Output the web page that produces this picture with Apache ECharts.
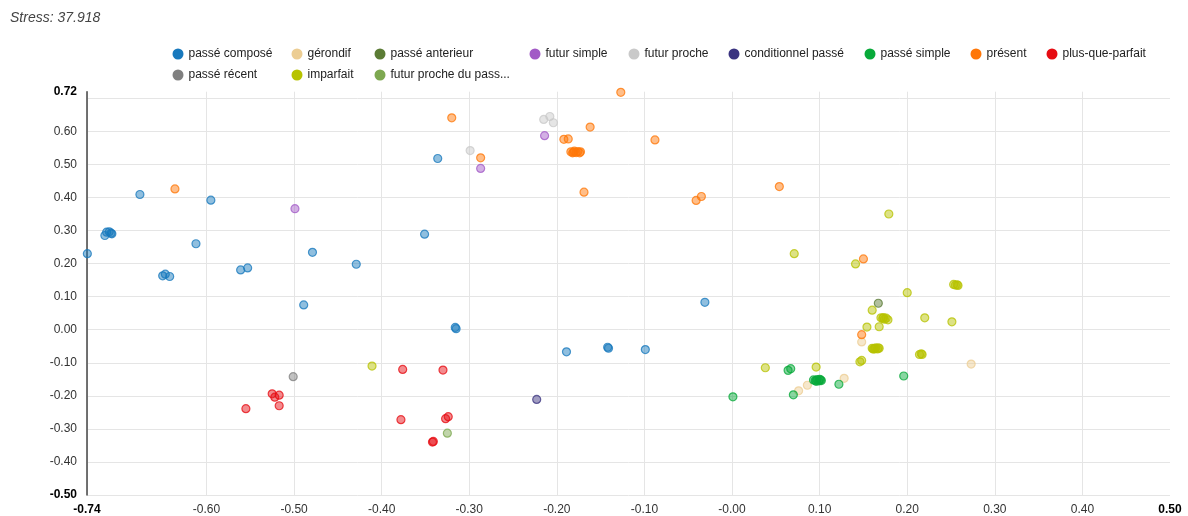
<!DOCTYPE html>
<html>
<head>
<meta charset="utf-8">
<title>Stress: 37.918</title>
<script src="https://cdn.jsdelivr.net/npm/echarts@6/dist/echarts.min.js"></script>
<style>
  html, body { margin: 0; padding: 0; background: #fff; }
  #chart { width: 1188px; height: 516px; }
</style>
</head>
<body>
<div id="chart"></div>
<script>
// MDS projection of verb tenses: one [x, y] pair per occurrence
const passeCompose = [
  [-0.736, 0.230],
  [-0.716, 0.285], [-0.714, 0.295], [-0.711, 0.296], [-0.709, 0.292], [-0.708, 0.290],
  [-0.676, 0.409],
  [-0.650, 0.163], [-0.647, 0.168], [-0.642, 0.161],
  [-0.612, 0.260],
  [-0.595, 0.392],
  [-0.561, 0.181], [-0.553, 0.187],
  [-0.489, 0.075],
  [-0.479, 0.234],
  [-0.429, 0.198],
  [-0.351, 0.289],
  [-0.336, 0.518],
  [-0.316, 0.007], [-0.315, 0.003],
  [-0.189, -0.067],
  [-0.142, -0.053], [-0.141, -0.056],
  [-0.099, -0.060],
  [-0.031, 0.083]
];
const gerondif = [[0.148, -0.037], [0.273, -0.104], [0.128, -0.147], [0.086, -0.168], [0.076, -0.185]];
const passeAnterieur = [[0.167, 0.080]];
const futurSimple = [[-0.499, 0.366], [-0.287, 0.488], [-0.214, 0.587]];
const futurProche = [[-0.299, 0.542], [-0.215, 0.636], [-0.208, 0.645], [-0.204, 0.626]];
const conditionnelPasse = [[-0.223, -0.211]];
const passeSimple = [
  [0.001, -0.203], [0.064, -0.123], [0.067, -0.118], [0.070, -0.197],
  [0.093, -0.152], [0.095, -0.154], [0.097, -0.151], [0.099, -0.155],
  [0.101, -0.152], [0.102, -0.154], [0.096, -0.156], [0.100, -0.150],
  [0.122, -0.165], [0.196, -0.140]
];
const present = [
  [-0.636, 0.426], [-0.320, 0.641], [-0.287, 0.520], [-0.192, 0.576], [-0.187, 0.577],
  [-0.184, 0.538], [-0.182, 0.535], [-0.180, 0.540], [-0.178, 0.536],
  [-0.176, 0.539], [-0.174, 0.535], [-0.173, 0.538], [-0.181, 0.537],
  [-0.169, 0.416], [-0.162, 0.613], [-0.127, 0.718], [-0.088, 0.574],
  [-0.041, 0.391], [-0.035, 0.403], [0.054, 0.433], [0.150, 0.214], [0.148, -0.015]
];
const plusQueParfait = [
  [-0.555, -0.239], [-0.525, -0.194], [-0.522, -0.204], [-0.517, -0.198], [-0.517, -0.230],
  [-0.378, -0.272], [-0.376, -0.120], [-0.342, -0.340], [-0.341, -0.338],
  [-0.330, -0.122], [-0.327, -0.269], [-0.324, -0.263]
];
const passeRecent = [[-0.501, -0.142]];
const imparfait = [
  [-0.411, -0.110], [0.038, -0.115], [0.071, 0.230], [0.096, -0.113], [0.141, 0.199],
  [0.146, -0.097], [0.148, -0.093],
  [0.154, 0.008], [0.160, 0.059], [0.168, 0.009],
  [0.170, 0.036], [0.172, 0.034], [0.174, 0.032], [0.176, 0.035], [0.178, 0.030], [0.173, 0.037],
  [0.160, -0.056], [0.162, -0.058], [0.164, -0.055], [0.166, -0.058],
  [0.168, -0.056], [0.163, -0.057], [0.161, -0.058], [0.167, -0.055],
  [0.179, 0.350], [0.200, 0.112],
  [0.214, -0.075], [0.216, -0.073], [0.217, -0.075],
  [0.220, 0.036], [0.251, 0.024],
  [0.253, 0.137], [0.255, 0.135], [0.257, 0.136], [0.258, 0.134]
];
const futurProchePasse = [[-0.325, -0.313]];

const seriesNames = [
  'passé composé', 'gérondif', 'passé anterieur', 'futur simple', 'futur proche',
  'conditionnel passé', 'passé simple', 'présent', 'plus-que-parfait',
  'passé récent', 'imparfait', 'futur proche du passé'
];
const seriesData = [
  passeCompose, gerondif, passeAnterieur, futurSimple, futurProche,
  conditionnelPasse, passeSimple, present, plusQueParfait,
  passeRecent, imparfait, futurProchePasse
];
const seriesColors = [
  '#1879bd', '#eccd93', '#5b7c35', '#a25ac6', '#c9c9c9',
  '#3a3380', '#08aa3a', '#ff7708', '#e60c12',
  '#808080', '#b7c300', '#7da850'
];

const X_MIN = -0.7364, X_MAX = 0.50;
const Y_MIN = -0.50, Y_MAX = 0.72;

const FONT = '"Liberation Sans", Arial, Helvetica, sans-serif';

function withAlpha(hex, a) {
  const n = parseInt(hex.slice(1), 16);
  return 'rgba(' + (n >> 16 & 255) + ',' + (n >> 8 & 255) + ',' + (n & 255) + ',' + a + ')';
}

// legend laid out in columns: each column is its own vertical legend
const legendColumns = [
  { x: 179, names: ['passé composé', 'passé récent'] },
  { x: 298, names: ['gérondif', 'imparfait'] },
  { x: 381, names: ['passé anterieur', 'futur proche du passé'] },
  { x: 536, names: ['futur simple'] },
  { x: 635, names: ['futur proche'] },
  { x: 735, names: ['conditionnel passé'] },
  { x: 871, names: ['passé simple'] },
  { x: 977, names: ['présent'] },
  { x: 1053, names: ['plus-que-parfait'] }
];

const legends = legendColumns.map(col => ({
  data: col.names.map(name => ({
    name: name,
    itemStyle: { color: seriesColors[seriesNames.indexOf(name)], borderWidth: 0, opacity: 1 }
  })),
  orient: 'vertical',
  left: col.x - 6.5,
  top: 47,
  padding: 0,
  itemWidth: 11,
  itemHeight: 11,
  itemGap: 7,
  icon: 'circle',
  selectedMode: false,
  formatter: name => name.length > 20 ? name.slice(0, 20) + '...' : name,
  textStyle: { fontFamily: FONT, fontSize: 12, color: '#222', lineHeight: 14 }
}));

const near = (a, b) => Math.abs(a - b) < 1e-6;

// hide the -0.70 grid line that sits next to the axis minimum
const xGridColors = [];
for (let i = 0; i < 20; i++) xGridColors.push(i === 1 ? 'rgba(0,0,0,0)' : '#e5e5e5');

const option = {
  animation: false,
  backgroundColor: '#fff',
  title: {
    text: 'Stress: 37.918',
    left: 10,
    top: 11,
    padding: 0,
    textStyle: { fontFamily: FONT, fontSize: 14, fontStyle: 'italic', fontWeight: 'normal', color: '#444' }
  },
  legend: legends,
  grid: { left: 87, right: 18, top: 91.7, bottom: 20.5, containLabel: false },
  xAxis: {
    type: 'value',
    min: X_MIN,
    max: X_MAX,
    splitNumber: 12,
    minInterval: 0.1,
    maxInterval: 0.1,
    axisLine: { show: false, onZero: false },
    axisTick: { show: false },
    splitLine: { show: true, showMaxLine: false, lineStyle: { color: xGridColors, width: 1 } },
    axisLabel: {
      show: true,
      showMinLabel: true,
      showMaxLabel: true,
      margin: 9,
      fontFamily: FONT,
      fontSize: 12,
      color: '#333',
      formatter: v => {
        if (near(v, X_MIN) || near(v, X_MAX)) return '{b|' + v.toFixed(2) + '}';
        if (near(v, -0.7)) return '';
        if (near(v, 0)) return '-0.00';
        return v.toFixed(2);
      },
      rich: { b: { fontFamily: FONT, fontSize: 12, fontWeight: 'bold', color: '#000' } }
    }
  },
  yAxis: {
    type: 'value',
    min: Y_MIN,
    max: Y_MAX,
    splitNumber: 12,
    minInterval: 0.1,
    maxInterval: 0.1,
    axisLine: { show: true, onZero: false, lineStyle: { color: '#444', width: 1.5 } },
    axisTick: { show: false },
    splitLine: { show: true, showMaxLine: false, lineStyle: { color: '#e5e5e5', width: 1 } },
    axisLabel: {
      show: true,
      showMinLabel: true,
      showMaxLabel: true,
      margin: 10,
      fontFamily: FONT,
      fontSize: 12,
      color: '#333',
      formatter: v => {
        if (near(v, Y_MIN) || near(v, Y_MAX)) return '{b|' + v.toFixed(2) + '}';
        if (near(v, 0.7)) return '';
        return v.toFixed(2);
      },
      rich: { b: { fontFamily: FONT, fontSize: 12, fontWeight: 'bold', color: '#000' } }
    }
  },
  series: seriesNames.map((name, i) => ({
    name: name,
    type: 'scatter',
    data: seriesData[i],
    clip: false,
    symbol: 'circle',
    symbolSize: 8,
    color: seriesColors[i],
    itemStyle: {
      color: withAlpha(seriesColors[i], 0.6),
      borderColor: withAlpha(seriesColors[i], 0.95),
      borderWidth: 1.2
    },
    emphasis: { disabled: true }
  }))
};

const chart = echarts.init(document.getElementById('chart'), null, { renderer: 'canvas' });
chart.setOption(option);
</script>
</body>
</html>
